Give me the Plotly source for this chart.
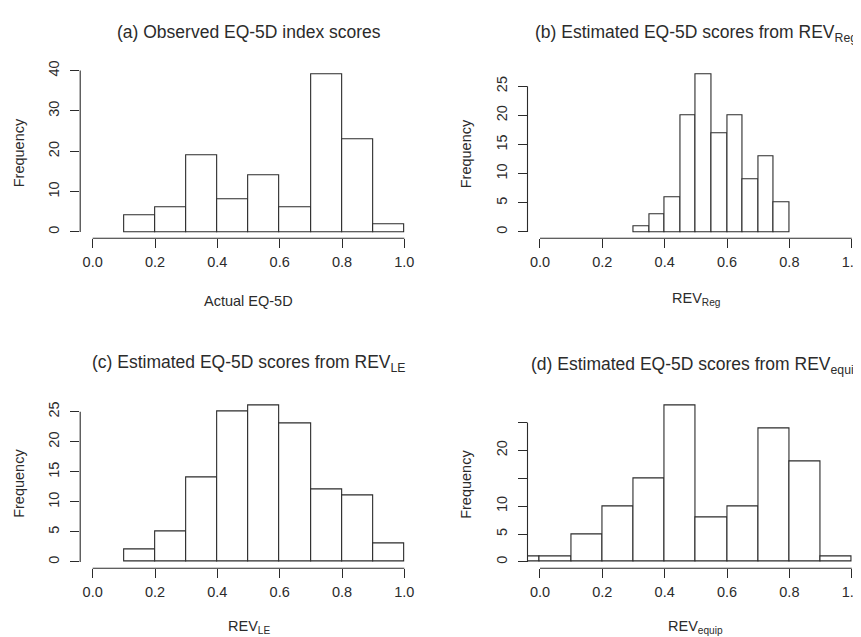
import plotly.graph_objects as go

# ---- data (bin left edges, bin width, counts) ----
a_edges = [0.1, 0.2, 0.3, 0.4, 0.5, 0.6, 0.7, 0.8, 0.9]
a_counts = [4, 6, 19, 8, 14, 6, 39, 23, 2]
a_width = 0.1

b_edges = [0.30, 0.35, 0.40, 0.45, 0.50, 0.55, 0.60, 0.65, 0.70, 0.75]
b_counts = [1, 3, 6, 20, 27, 17, 20, 9, 13, 5]
b_width = 0.05

c_edges = [0.1, 0.2, 0.3, 0.4, 0.5, 0.6, 0.7, 0.8, 0.9]
c_counts = [2, 5, 14, 25, 26, 23, 12, 11, 3]
c_width = 0.1

d_edges = [-0.1, 0.0, 0.1, 0.2, 0.3, 0.4, 0.5, 0.6, 0.7, 0.8, 0.9]
d_counts = [1, 1, 5, 10, 15, 28, 8, 10, 24, 18, 1]
d_width = 0.1

x_ticks = [0.0, 0.2, 0.4, 0.6, 0.8, 1.0]
x_ticklabels = ["0.0", "0.2", "0.4", "0.6", "0.8", "1.0"]

a_yticks = [0, 10, 20, 30, 40]
a_unlabeled_yticks = []
b_yticks = [0, 5, 10, 15, 20, 25]
b_unlabeled_yticks = []
c_yticks = [0, 5, 10, 15, 20, 25]
c_unlabeled_yticks = []
d_yticks = [0, 5, 10, 20]
d_unlabeled_yticks = [15, 25]

titles = [
    "(a) Observed EQ-5D index scores",
    "(b) Estimated EQ-5D scores from REV<sub>Reg</sub>",
    "(c) Estimated EQ-5D scores from REV<sub>LE</sub>",
    "(d) Estimated EQ-5D scores from REV<sub>equip</sub>",
]
xtitles = ["Actual EQ-5D", "REV<sub>Reg</sub>", "REV<sub>LE</sub>", "REV<sub>equip</sub>"]
ytitle = "Frequency"

# ---- style / geometry (figure pixels; page body adds an 8px offset) ----
INK = "#2b2b2b"
FONT = "Liberation Sans, Arial, Helvetica, sans-serif"
TICK_SIZE = 14.5
TITLE_SIZE = 17.5
TICKLEN = 9

W, H = 861, 629
col_x = [(72.2 / W, 408.8 / W), (519.5 / W, 856.2 / W)]
row_y = [(1 - 225.1 / H, 1 - 53.0 / H), (1 - 559.3 / H, 1 - 388.4 / H)]
title_y_px = [16.0, 17.5, 352.0, 353.5]
xtitle_y_px = [288.5, 286.5, 619.0, 619.0]
ytitle_x_px = [11.0, 458.0]

panels = [
    (a_edges, a_counts, a_width, a_yticks, a_unlabeled_yticks, 0, 0),
    (b_edges, b_counts, b_width, b_yticks, b_unlabeled_yticks, 0, 1),
    (c_edges, c_counts, c_width, c_yticks, c_unlabeled_yticks, 1, 0),
    (d_edges, d_counts, d_width, d_yticks, d_unlabeled_yticks, 1, 1),
]

fig = go.Figure()
layout = dict(
    width=W, height=H,
    margin=dict(l=0, r=0, t=0, b=0),
    paper_bgcolor="white", plot_bgcolor="white",
    showlegend=False, bargap=0,
    font=dict(family=FONT, color=INK, size=TICK_SIZE),
)
shapes = []
annotations = []

for i, (edges, counts, width, yt, yt_minor, r, c) in enumerate(panels):
    n = "" if i == 0 else str(i + 1)
    xa, ya = "x" + n, "y" + n
    centers = [e + width / 2 for e in edges]
    fig.add_trace(go.Bar(
        x=centers, y=counts, width=[width] * len(counts),
        marker=dict(color="white", line=dict(color=INK, width=1.1)),
        xaxis=xa, yaxis=ya, hoverinfo="x+y",
    ))
    ymax = max(counts)
    layout["xaxis" + n] = dict(
        domain=list(col_x[c]), range=[-0.04, 1.04], anchor=ya,
        tickvals=x_ticks, ticktext=x_ticklabels,
        ticks="outside", ticklen=TICKLEN, tickwidth=1, tickcolor=INK,
        showline=False, showgrid=False, zeroline=False,
        tickfont=dict(family=FONT, size=TICK_SIZE, color=INK),
        ticklabelstandoff=1, ticklabeloverflow="allow",
    )
    yaxis = dict(
        domain=list(row_y[r]), range=[-0.04 * ymax, 1.04 * ymax], anchor=xa,
        tickvals=yt, ticktext=[str(v) for v in yt], tickangle=-90,
        ticks="outside", ticklen=TICKLEN, tickwidth=1, tickcolor=INK,
        showline=False, showgrid=False, zeroline=False,
        tickfont=dict(family=FONT, size=TICK_SIZE, color=INK),
        ticklabelstandoff=5,
    )
    if yt_minor:
        yaxis["minor"] = dict(tickvals=yt_minor, ticks="outside", ticklen=TICKLEN,
                              tickwidth=1, tickcolor=INK, showgrid=False)
    layout["yaxis" + n] = yaxis
    top_tick = max(list(yt) + list(yt_minor))
    # R-style axis lines spanning only the tick range
    shapes.append(dict(type="line", xref=xa, yref=ya + " domain",
                       x0=x_ticks[0], x1=x_ticks[-1], y0=0, y1=0,
                       line=dict(color=INK, width=1.1)))
    shapes.append(dict(type="line", xref=xa + " domain", yref=ya,
                       x0=0, x1=0, y0=min(yt), y1=top_tick,
                       line=dict(color=INK, width=1.1)))
    annotations.append(dict(text=titles[i], xref=xa + " domain", x=0.5,
                            yref="paper", y=1 - title_y_px[i] / H, showarrow=False,
                            xanchor="center", yanchor="middle",
                            font=dict(family=FONT, size=TITLE_SIZE, color=INK)))
    annotations.append(dict(text=xtitles[i], xref=xa + " domain", x=0.5,
                            yref="paper", y=1 - xtitle_y_px[i] / H, showarrow=False,
                            xanchor="center", yanchor="middle",
                            font=dict(family=FONT, size=TICK_SIZE, color=INK)))
    annotations.append(dict(text=ytitle, xref="paper", x=ytitle_x_px[c] / W,
                            yref=ya + " domain", y=0.5, showarrow=False,
                            textangle=-90, xanchor="center", yanchor="middle",
                            font=dict(family=FONT, size=TICK_SIZE, color=INK)))

layout["shapes"] = shapes
layout["annotations"] = annotations
fig.update_layout(**layout)
fig.write_html("out.html")
